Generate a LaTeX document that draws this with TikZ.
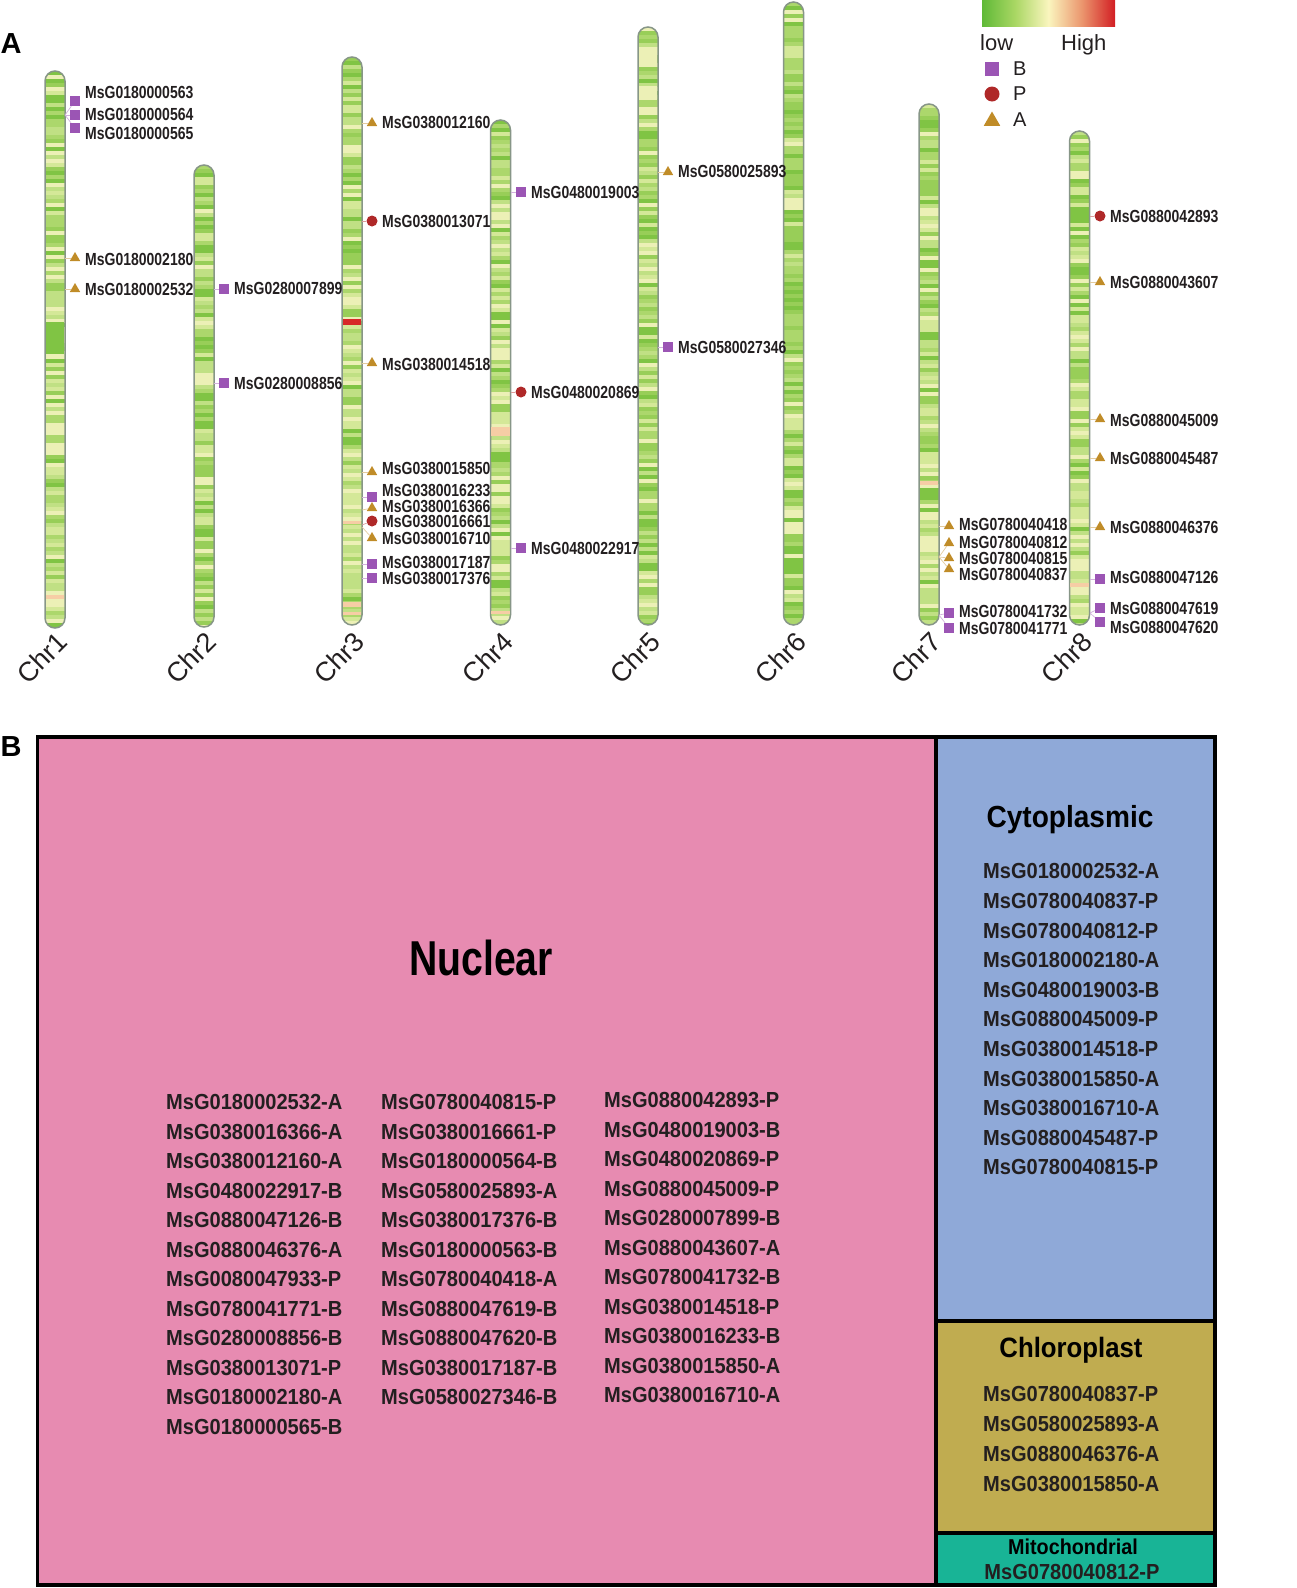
\documentclass[tikz,border=0pt]{standalone}
\usepackage{fontspec}
\setmainfont{Liberation Sans}
\newfontfamily\narrowfont{Liberation Sans}[FakeStretch=0.8]
\newfontfamily\listfont{Liberation Sans}[FakeStretch=0.92]
\usetikzlibrary{shapes.geometric}

\definecolor{ink}{RGB}{35,31,32}
\definecolor{cg1}{RGB}{128,196,68}
\definecolor{cg2}{RGB}{152,206,88}
\definecolor{cg3}{RGB}{172,215,108}
\definecolor{cy1}{RGB}{192,224,132}
\definecolor{cy2}{RGB}{212,232,152}
\definecolor{cy3}{RGB}{236,240,182}
\definecolor{chrbase}{RGB}{180,218,118}
\definecolor{peach}{RGB}{246,205,165}
\definecolor{chrred}{RGB}{215,40,40}
\definecolor{chredge}{RGB}{135,150,135}
\definecolor{bpurple}{RGB}{155,85,180}
\definecolor{pred}{RGB}{175,40,40}
\definecolor{agold}{RGB}{192,140,40}
\definecolor{lg1}{RGB}{95,185,55}
\definecolor{lg2}{RGB}{170,215,100}
\definecolor{lg3}{RGB}{250,245,190}
\definecolor{lg4}{RGB}{235,150,110}
\definecolor{lg5}{RGB}{210,30,35}
\definecolor{nucfill}{RGB}{231,139,177}
\definecolor{cytfill}{RGB}{143,169,216}
\definecolor{chlfill}{RGB}{192,172,80}
\definecolor{mitfill}{RGB}{24,180,150}
\pgfdeclarehorizontalshading{lowhigh}{100bp}{color(0bp)=(lg1); color(25bp)=(lg1); color(37.5bp)=(lg2);
  color(50bp)=(lg3); color(62.5bp)=(lg4); color(75bp)=(lg5); color(100bp)=(lg5)}

\begin{document}
\begin{tikzpicture}[x=1pt,y=-1pt]
  \tikzstyle{genetxt}=[font=\narrowfont\bfseries\fontsize{17.5}{18}\selectfont,inner sep=0pt,anchor=west,text=ink]
  \tikzstyle{listtxt}=[font=\listfont\bfseries\fontsize{21.8}{22}\selectfont,inner sep=0pt,anchor=base west,text=ink]
  \tikzstyle{chrtxt}=[font=\fontsize{27}{27}\selectfont,inner sep=0pt,rotate=45,text=ink]
  \tikzstyle{legtxt}=[font=\fontsize{20}{20}\selectfont,inner sep=0pt,text=ink]
  \tikzstyle{paneltxt}=[font=\bfseries\fontsize{29}{29}\selectfont,inner sep=0pt,text=black]
  \tikzstyle{mB}=[rectangle,fill=bpurple,minimum size=10pt,inner sep=0pt]
  \tikzstyle{mP}=[circle,fill=pred,minimum size=11pt,inner sep=0pt]
  \tikzstyle{mA}=[regular polygon,regular polygon sides=3,fill=agold,minimum size=12pt,inner sep=0pt]
  \tikzstyle{lB}=[bpurple!45,line width=0.7pt]
  \tikzstyle{lP}=[pred!45,line width=0.7pt]
  \tikzstyle{lA}=[agold!45,line width=0.7pt]
  \tikzstyle{boxline}=[draw=black,line width=3.5pt]
  \useasboundingbox (0,0) rectangle (1297,1588);

  % chromosomes
  \foreach \cx/\yt/\yz/\seed/\ga/\gb [count=\cn] in {55/71/628/11/6/3, 204/165/627/22/6/5,
      352/57/625/33/7/2, 500.5/120/625/44/6/3, 648/27/625/55/5/7, 793.5/2/625/66/8/7,
      929/104/625/77/7/3, 1079.5/131/625/88/6/3}{
    \begin{scope}
      \clip[rounded corners=10pt] (\cx-10,\yt) rectangle (\cx+10,\yz);
      \fill[chrbase] (\cx-10,\yt) rectangle (\cx+10,\yz);
      \pgfmathsetseed{\seed}
      \pgfmathtruncatemacro{\ya}{\yt}
      \pgfmathtruncatemacro{\yb}{\yt+4}
      \foreach \yy in {\ya,\yb,...,\yz}{
        \pgfmathsetmacro{\gv}{\ga+(\gb-\ga)*(\yy-\yt)/(\yz-\yt)}
        \pgfmathrandominteger{\rv}{1}{10}
        \pgfmathrandominteger{\kv}{1}{3}
        \pgfmathtruncatemacro{\isg}{\rv<=\gv ? 1 : 0}
        \ifnum\isg=1 \edef\bc{cg\kv}\else\edef\bc{cy\kv}\fi
        \fill[fill=\bc] (\cx-10,\yy) rectangle (\cx+10,\yy+4);
      }
    \end{scope}
    \draw[chredge,line width=1.5pt,rounded corners=10pt] (\cx-10,\yt) rectangle (\cx+10,\yz);
    \node[chrtxt] (chr\cn) at (\cx-13,658) {Chr\cn};
  }
  % fixed bands
  \foreach \cx/\ya/\yb/\col in {55/322/354/cg1, 55/595/599/peach, 352/319/325/chrred,
      352/521/524/peach, 352/602/607/peach, 352/612/615/peach, 500.5/427/436/peach,
      500.5/452/462/cg1, 500.5/611/614/peach, 648/50/64/cy3, 648/86/100/cy3,
      793.5/558/574/cg1, 929/481/485/peach, 1079.5/583/587/peach}{
    \fill[fill=\col] (\cx-9.2,\ya) rectangle (\cx+9.2,\yb);
  }

  % genes: id / chr edge / chr y / mark y / label y / type
  \foreach \id/\ex/\cy/\my/\ly/\t in {
      0180000563/65/115/101/92/B, 0180000564/65/115/115/114/B, 0180000565/65/115/128/133/B,
      0180002180/65/258/258/259/A, 0180002532/65/289/289/289/A,
      0280007899/214/289/289/288/B, 0280008856/214/383/383/383/B,
      0380012160/362/123/123/122/A, 0380013071/362/221/221/221/P,
      0380014518/362/363/363/364/A, 0380015850/362/472/472/468/A,
      0380016233/362/497/497/490/B, 0380016366/362/510/508/506/A,
      0380016661/362/525/521/521/P, 0380016710/362/527/538/538/A,
      0380017187/362/564/564/562/B, 0380017376/362/578/578/578/B,
      0480019003/511/192/192/192/B, 0480020869/511/392/392/392/P,
      0480022917/511/548/548/548/B,
      0580025893/658/172/172/171/A, 0580027346/658/347/347/347/B,
      0780040418/939/526/526/524/A, 0780040812/939/557/543/542/A,
      0780040815/939/557/558/558/A, 0780040837/939/557/569/574/A,
      0780041732/939/615/613/611/B, 0780041771/939/615/628/628/B,
      0880042893/1090/216/216/216/P, 0880043607/1090/282/282/282/A,
      0880045009/1090/419/419/420/A, 0880045487/1090/458/458/458/A,
      0880046376/1090/527/527/527/A, 0880047126/1090/579/579/577/B,
      0880047619/1090/613/608/608/B, 0880047620/1090/613/622/627/B}{
    \coordinate (c\id) at (\ex,\cy);
    \node[m\t] (m\id) at (\ex+10,\my) {};
    \node[genetxt] (g\id) at (\ex+20,\ly) {MsG\id};
    \draw[l\t] (c\id) -- (m\id);
  }

  % legend
  \shade[shading=lowhigh] (982,0) rectangle (1115,26);
  \node[legtxt,font=\fontsize{22}{22}\selectfont,anchor=base west] (low) at (980,50) {low};
  \node[legtxt,font=\fontsize{22}{22}\selectfont,anchor=base west] (high) at (1061,50) {High};
  \node[mB,minimum size=14pt] (legB) at (992,69) {};
  \node[legtxt,anchor=west] (legBt) at (1013,69) {B};
  \node[mP,minimum size=15pt] (legP) at (992,94) {};
  \node[legtxt,anchor=west] (legPt) at (1013,94) {P};
  \node[mA,minimum size=19pt] (legA) at (992,121) {};
  \node[legtxt,anchor=west] (legAt) at (1013,120) {A};
  \node[paneltxt] (pA) at (11,44) {A};
  \node[paneltxt] (pB) at (11,747) {B};

  % panel B
  \fill[nucfill] (37.5,737) rectangle (936,1585);
  \fill[cytfill] (936,737) rectangle (1215,1321);
  \fill[chlfill] (936,1321) rectangle (1215,1533);
  \fill[mitfill] (936,1533) rectangle (1215,1585);
  \draw[boxline] (37.5,737) rectangle (1215,1585);
  \draw[boxline] (936,737) -- (936,1585);
  \draw[boxline] (936,1321) -- (1215,1321);
  \draw[boxline] (936,1533) -- (1215,1533);

  \node[font=\narrowfont\bfseries\fontsize{49}{49}\selectfont,anchor=base,text=black] (nuc) at (481,975.5) {Nuclear};
  \node[font=\listfont\bfseries\fontsize{30.5}{31}\selectfont,anchor=base,text=black] (cyt) at (1070,827) {Cytoplasmic};
  \node[font=\listfont\bfseries\fontsize{28}{28}\selectfont,anchor=base,text=black] (chl) at (1071,1357) {Chloroplast};
  \node[font=\listfont\bfseries\fontsize{21.5}{22}\selectfont,text=black] (mit) at (1073,1547) {Mitochondrial};
  \node[listtxt,anchor=center] (mit1) at (1072,1572) {MsG0780040812-P};

  \foreach \g [count=\i] in {MsG0180002532-A, MsG0380016366-A, MsG0380012160-A, MsG0480022917-B,
      MsG0880047126-B, MsG0880046376-A, MsG0080047933-P, MsG0780041771-B, MsG0280008856-B,
      MsG0380013071-P, MsG0180002180-A, MsG0180000565-B}
    \node[listtxt] (nucA\i) at (166,{1102+7.8+(\i-1)*29.5}) {\g};
  \foreach \g [count=\i] in {MsG0780040815-P, MsG0380016661-P, MsG0180000564-B, MsG0580025893-A,
      MsG0380017376-B, MsG0180000563-B, MsG0780040418-A, MsG0880047619-B, MsG0880047620-B,
      MsG0380017187-B, MsG0580027346-B}
    \node[listtxt] (nucB\i) at (381,{1102+7.8+(\i-1)*29.5}) {\g};
  \foreach \g [count=\i] in {MsG0880042893-P, MsG0480019003-B, MsG0480020869-P, MsG0880045009-P,
      MsG0280007899-B, MsG0880043607-A, MsG0780041732-B, MsG0380014518-P, MsG0380016233-B,
      MsG0380015850-A, MsG0380016710-A}
    \node[listtxt] (nucC\i) at (604,{1100+7.8+(\i-1)*29.5}) {\g};
  \foreach \g [count=\i] in {MsG0180002532-A, MsG0780040837-P, MsG0780040812-P, MsG0180002180-A,
      MsG0480019003-B, MsG0880045009-P, MsG0380014518-P, MsG0380015850-A, MsG0380016710-A,
      MsG0880045487-P, MsG0780040815-P}
    \node[listtxt] (cyt\i) at (983,{871+7.8+(\i-1)*29.6}) {\g};
  \foreach \g [count=\i] in {MsG0780040837-P, MsG0580025893-A, MsG0880046376-A, MsG0380015850-A}
    \node[listtxt] (chl\i) at (983,{1394+7.8+(\i-1)*29.8}) {\g};
\end{tikzpicture}
\end{document}
